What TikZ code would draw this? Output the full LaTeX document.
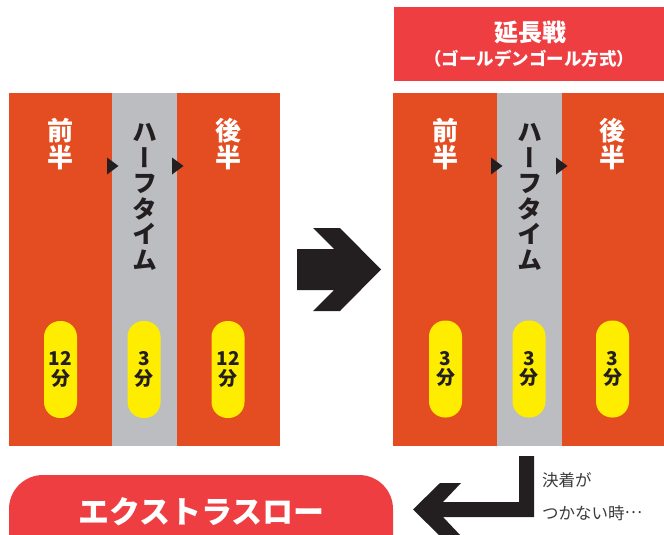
\documentclass[tikz,border=0pt]{standalone}
\usepackage{fontspec}
\newfontfamily\jp{Noto Sans CJK JP}
\newfontfamily\jpv[RawFeature=+vert]{Noto Sans CJK JP}
\definecolor{panelred}{HTML}{E44C21}
\definecolor{halfgray}{HTML}{BCBDC0}
\definecolor{pillyellow}{HTML}{FFED00}
\definecolor{headred}{HTML}{EE3E41}
\definecolor{inkdark}{HTML}{231F20}
\definecolor{notegray}{HTML}{3A3A3A}
\begin{document}
\begin{tikzpicture}[x=1pt,y=-1pt,
  box/.style={inner sep=0pt,outer sep=0pt,draw=none,anchor=north west},
  halfbox/.style={box,fill=panelred},
  breakbox/.style={box,fill=halfgray},
  pill/.style={inner sep=0pt,outer sep=0pt,fill=pillyellow,rounded corners=16pt,minimum width=33pt,minimum height=97pt,
     align=center,text=inkdark,font={\jp\bfseries\fontsize{19}{19.5}\selectfont}},
  halftext/.style={align=center,text=white,inner sep=0pt,font={\jp\bfseries\fontsize{26}{27}\selectfont}},
  breaktext/.style={align=center,text=inkdark,inner sep=0pt,font={\jpv\bfseries\fontsize{25}{25.6}\selectfont}},
  tri/.style={fill=inkdark},
  bigarrow/.style={fill=inkdark},
  note/.style={anchor=west,inner sep=0pt,text=notegray,font={\jp\fontsize{16.5}{18}\selectfont}}
]
\useasboundingbox (0,0) rectangle (664,535);
\clip (0,0) rectangle (664,535);

% left block
\node[halfbox,minimum width=103pt,minimum height=353pt] (L1) at (9,93) {};
\node[breakbox,minimum width=65pt,minimum height=353pt] (L2) at (112,93) {};
\node[halfbox,minimum width=103pt,minimum height=353pt] (L3) at (177,93) {};
\node[halftext] (L1t) at (60.5,144) {前\\半};
\node[breaktext] (L2t) at (144.5,197) {ハ\\ー\\フ\\タ\\イ\\ム};
\node[halftext] (L3t) at (228,144) {後\\半};
\fill[tri] (107,157.5) -- (118.5,166) -- (107,174.5) -- cycle;
\fill[tri] (172,157.5) -- (183.5,166) -- (172,174.5) -- cycle;
\node[pill] (L1p) at (60.5,369.5) {12\\分};
\node[pill] (L2p) at (144,369.5) {3\\分};
\node[pill] (L3p) at (228,369.5) {12\\分};

% right block
\node[box,fill=headred,minimum width=270pt,minimum height=74pt] (H) at (394,7) {};
\node[text=white,inner sep=0pt,font={\jp\bfseries\fontsize{24}{26}\selectfont}] (Ht1) at (530,32) {延長戦};
\node[text=white,inner sep=0pt,font={\jp\bfseries\fontsize{17.5}{19}\selectfont}] (Ht2) at (529,58.5) {（ゴールデンゴール方式）};
\node[halfbox,minimum width=104pt,minimum height=353pt] (R1) at (393,93) {};
\node[breakbox,minimum width=65pt,minimum height=353pt] (R2) at (497,93) {};
\node[halfbox,minimum width=102pt,minimum height=353pt] (R3) at (562,93) {};
\node[halftext] (R1t) at (445,144) {前\\半};
\node[breaktext] (R2t) at (529.5,197) {ハ\\ー\\フ\\タ\\イ\\ム};
\node[halftext] (R3t) at (612,144) {後\\半};
\fill[tri] (491,157.5) -- (502.5,166) -- (491,174.5) -- cycle;
\fill[tri] (556,157.5) -- (567.5,166) -- (556,174.5) -- cycle;
\node[pill] (R1p) at (445.5,369) {3\\分};
\node[pill] (R2p) at (529,369) {3\\分};
\node[pill] (R3p) at (612.5,369) {3\\分};

% big arrow between blocks
\fill[bigarrow] (297,249) -- (334,249) -- (313,228) -- (340,228) -- (381,269.5)
  -- (340,311) -- (313,311) -- (334,290) -- (297,290) -- cycle;

% bottom return arrow
\fill[bigarrow] (534,456) -- (534,517) -- (443,517) -- (461,536) -- (440,536) -- (413,509.5)
  -- (440,483) -- (461,483) -- (443,502) -- (519,502) -- (519,456) -- cycle;
\node[note] (N1) at (542,480) {決着が};
\node[note] (N2) at (542,513) {つかない時\raisebox{0.33em}{…}};

% extra throw pill
\node[box,fill=headred,rounded corners=34pt,minimum width=384pt,minimum height=100pt] (E) at (9,475) {};
\node[text=white,inner sep=0pt,font={\jp\bfseries\fontsize{31}{33}\selectfont}] (Et) at (201.5,512) {エクストラスロー};
\end{tikzpicture}
\end{document}
